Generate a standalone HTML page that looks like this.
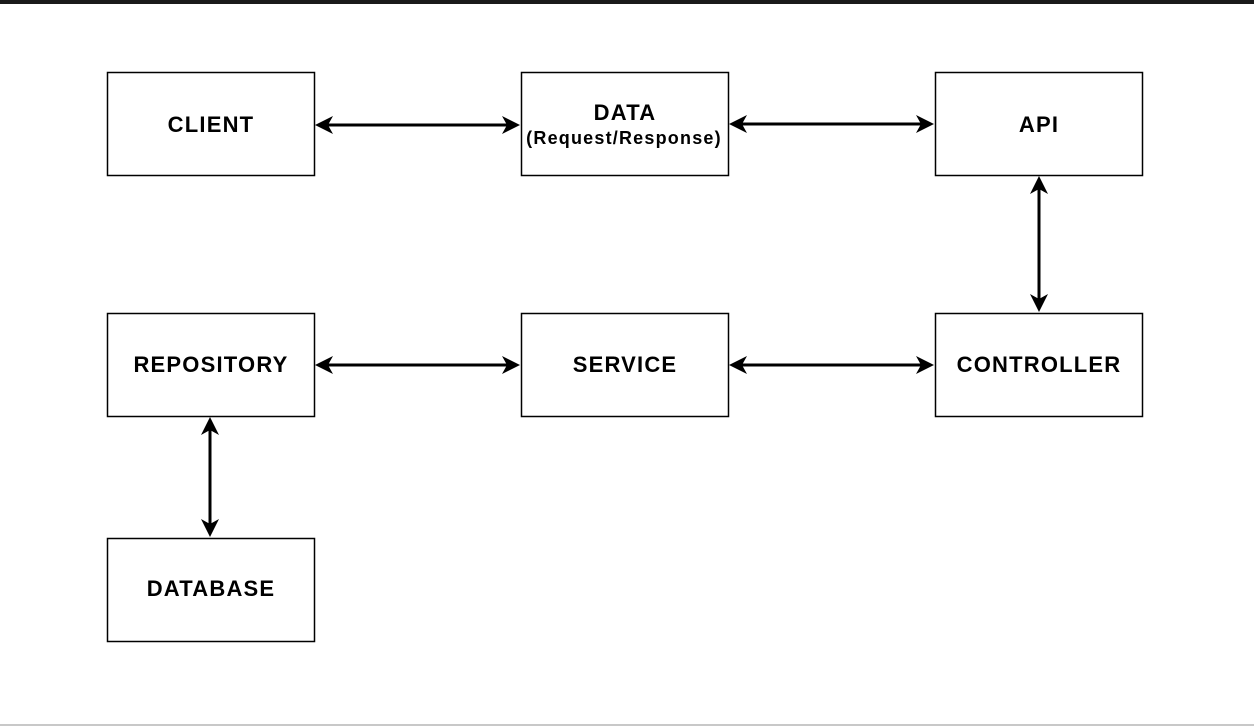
<!DOCTYPE html>
<html><head><style>
html,body{margin:0;padding:0;background:#fff;}
svg{display:block}
text{font-family:"Liberation Sans",Arial,sans-serif;font-weight:bold;fill:#000;text-anchor:middle;letter-spacing:1.2px}
</style></head><body>
<svg width="1254" height="726" viewBox="0 0 1254 726" xmlns="http://www.w3.org/2000/svg">
<rect x="0" y="0" width="1254" height="4" fill="#1a1a1a"/>
<rect x="0" y="724" width="1254" height="2" fill="#c8c8c8"/>
<g fill="#fff" stroke="#000" stroke-width="1.5">
<rect x="107.5" y="72.5" width="207" height="103"/>
<rect x="521.5" y="72.5" width="207" height="103"/>
<rect x="935.5" y="72.5" width="207" height="103"/>
<rect x="107.5" y="313.5" width="207" height="103"/>
<rect x="521.5" y="313.5" width="207" height="103"/>
<rect x="935.5" y="313.5" width="207" height="103"/>
<rect x="107.5" y="538.5" width="207" height="103"/>
</g>
<g stroke="#000" stroke-width="3">
<line x1="326" y1="125" x2="509" y2="125"/>
<line x1="740" y1="124" x2="923" y2="124"/>
<line x1="1039" y1="188" x2="1039" y2="301"/>
<line x1="326" y1="365" x2="509" y2="365"/>
<line x1="740" y1="365" x2="923" y2="365"/>
<line x1="210" y1="429" x2="210" y2="526"/>
</g>
<g fill="#000">
<path d="M315,125 L333,116 L328,125 L333,134Z"/>
<path d="M520,125 L502,116 L507,125 L502,134Z"/>
<path d="M729,124 L747,115 L742,124 L747,133Z"/>
<path d="M934,124 L916,115 L921,124 L916,133Z"/>
<path d="M1039,176 L1030,194 L1039,189 L1048,194Z"/>
<path d="M1039,312 L1030,294 L1039,299 L1048,294Z"/>
<path d="M315,365 L333,356 L328,365 L333,374Z"/>
<path d="M520,365 L502,356 L507,365 L502,374Z"/>
<path d="M729,365 L747,356 L742,365 L747,374Z"/>
<path d="M934,365 L916,356 L921,365 L916,374Z"/>
<path d="M210,417 L201,435 L210,430 L219,435Z"/>
<path d="M210,537 L201,519 L210,524 L219,519Z"/>
</g>
<g font-size="22">
<text x="211" y="132">CLIENT</text>
<text x="625" y="120">DATA</text>
<text x="1039" y="132">API</text>
<text x="211" y="372">REPOSITORY</text>
<text x="625" y="372">SERVICE</text>
<text x="1039" y="372">CONTROLLER</text>
<text x="211" y="596">DATABASE</text>
</g>
<text x="624" y="144" font-size="18">(Request/Response)</text>
</svg>
</body></html>
